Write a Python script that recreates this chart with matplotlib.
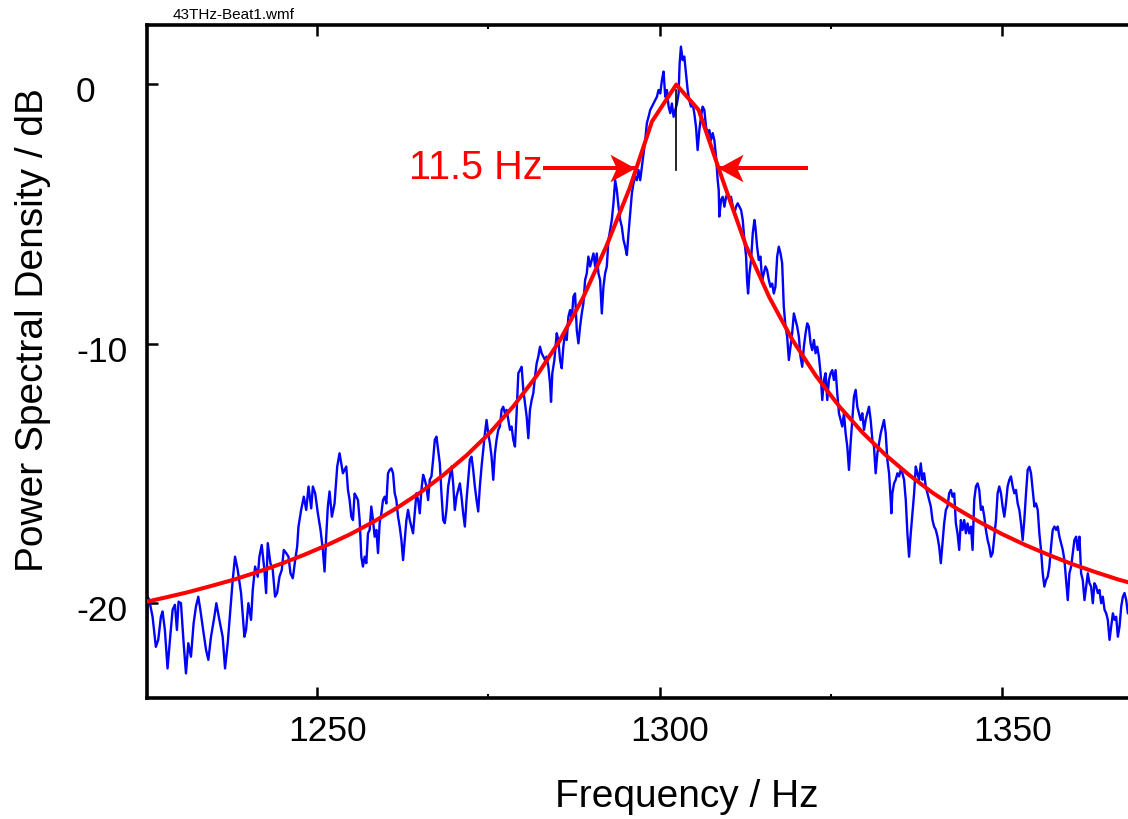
import numpy as np
import matplotlib
matplotlib.use('Agg')
import matplotlib.pyplot as plt
import matplotlib.transforms as mtransforms
from matplotlib.path import Path
from matplotlib.ticker import MultipleLocator

plt.rcParams['font.family'] = ['Liberation Sans', 'DejaVu Sans']
plt.rcParams['axes.unicode_minus'] = False

freq_hz = [
    # 1225 - 1254 Hz
    1225.10, 1225.20, 1225.44, 1225.93, 1226.41, 1226.76, 1227.15, 1227.39, 1227.73, 1228.12,
    1228.51, 1228.86, 1229.20, 1229.49, 1229.73, 1230.08, 1230.47, 1230.81, 1231.15, 1231.54,
    1231.93, 1232.27, 1232.61, 1232.91, 1233.25, 1233.74, 1234.08, 1234.47, 1234.96, 1235.25,
    1235.69, 1236.17, 1236.52, 1236.91, 1237.30, 1237.64, 1237.98, 1238.37, 1238.86, 1239.35,
    1239.59, 1239.93, 1240.32, 1240.57, 1240.91, 1241.30, 1241.54, 1241.88, 1242.27, 1242.52,
    1242.76, 1243.15, 1243.49, 1243.83, 1244.13, 1244.47, 1244.81, 1245.10, 1245.45, 1245.79,
    1246.08, 1246.42, 1246.77, 1247.06, 1247.25, 1247.64, 1248.03, 1248.38, 1248.72, 1249.11,
    1249.35, 1249.69, 1250.08, 1250.47, 1250.81, 1251.06, 1251.30, 1251.54, 1251.79, 1252.13,
    1252.52, 1252.91, 1253.25, 1253.50, 1253.74,
    # 1254 - 1284 Hz
    1253.99, 1254.23, 1254.48, 1254.72, 1254.97, 1255.21, 1255.45, 1255.70, 1255.94, 1256.19,
    1256.43, 1256.67, 1256.92, 1257.16, 1257.41, 1257.65, 1257.89, 1258.14, 1258.38, 1258.63,
    1258.87, 1259.11, 1259.36, 1259.60, 1259.85, 1260.09, 1260.33, 1260.58, 1260.82, 1261.07,
    1261.31, 1261.55, 1261.80, 1262.04, 1262.29, 1262.53, 1262.77, 1263.02, 1263.26, 1263.51,
    1263.75, 1263.99, 1264.24, 1264.48, 1264.73, 1264.97, 1265.21, 1265.46, 1265.70, 1265.95,
    1266.19, 1266.43, 1266.68, 1266.92, 1267.17, 1267.41, 1267.65, 1267.90, 1268.14, 1268.39,
    1268.63, 1268.87, 1269.12, 1269.36, 1269.61, 1269.85, 1270.09, 1270.34, 1270.58, 1270.83,
    1271.07, 1271.31, 1271.56, 1271.80, 1272.05, 1272.29, 1272.53, 1272.78, 1273.02, 1273.27,
    1273.51, 1273.75, 1274.00, 1274.24, 1274.49, 1274.73, 1274.97, 1275.22, 1275.46, 1275.71,
    1275.95, 1276.19, 1276.44, 1276.68, 1276.93, 1277.17, 1277.41, 1277.66, 1277.90, 1278.15,
    1278.39, 1278.63, 1278.88, 1279.12, 1279.37, 1279.61, 1279.85, 1280.10, 1280.34, 1280.59,
    1280.83, 1281.07, 1281.32, 1281.56, 1281.81, 1282.05, 1282.29, 1282.54, 1282.78, 1283.03,
    1283.27, 1283.51, 1283.76,
    # 1284 - 1314 Hz (peak)
    1284.00, 1284.15, 1284.34, 1284.64, 1284.98, 1285.22, 1285.47, 1285.71, 1285.95, 1286.20,
    1286.44, 1286.69, 1286.93, 1287.17, 1287.42, 1287.66, 1287.91, 1288.15, 1288.39, 1288.64,
    1288.88, 1289.13, 1289.37, 1289.61, 1289.86, 1290.10, 1290.35, 1290.59, 1290.83, 1291.08,
    1291.32, 1291.57, 1291.81, 1292.05, 1292.30, 1292.54, 1292.79, 1293.03, 1293.27, 1293.52,
    1293.76, 1294.01, 1294.25, 1294.49, 1294.74, 1294.98, 1295.23, 1295.47, 1295.71, 1295.96,
    1296.20, 1296.45, 1296.69, 1296.93, 1297.18, 1297.42, 1297.67, 1297.91, 1298.15, 1298.40,
    1298.64, 1298.89, 1299.13, 1299.37, 1299.62, 1299.86, 1300.11, 1300.35, 1300.59, 1300.84,
    1301.08, 1301.33, 1301.57, 1301.81, 1302.06, 1302.30, 1302.55, 1302.79, 1302.94, 1303.13,
    1303.38, 1303.62, 1303.86, 1304.11, 1304.35, 1304.60, 1304.84, 1305.08, 1305.33, 1305.57,
    1305.82, 1306.06, 1306.30, 1306.55, 1306.79, 1307.04, 1307.28, 1307.52, 1307.77, 1308.01,
    1308.26, 1308.50, 1308.65, 1308.74, 1308.99, 1309.23, 1309.48, 1309.72, 1309.96, 1310.21,
    1310.45, 1310.70, 1310.94, 1311.18, 1311.43, 1311.67, 1311.92, 1312.16, 1312.40, 1312.65,
    1312.79, 1312.94, 1313.14, 1313.38, 1313.62, 1313.87, 1314.01,
    # 1314 - 1341 Hz
    1314.26, 1314.50, 1314.75, 1314.99, 1315.24, 1315.48, 1315.72, 1315.97, 1316.21, 1316.46,
    1316.70, 1316.94, 1317.19, 1317.43, 1317.68, 1317.92, 1318.16, 1318.41, 1318.65, 1318.90,
    1319.14, 1319.38, 1319.63, 1319.87, 1320.12, 1320.36, 1320.60, 1320.85, 1321.09, 1321.34,
    1321.58, 1321.82, 1322.07, 1322.31, 1322.56, 1322.80, 1323.04, 1323.29, 1323.53, 1323.78,
    1324.02, 1324.26, 1324.51, 1324.75, 1325.00, 1325.24, 1325.48, 1325.73, 1325.97, 1326.22,
    1326.46, 1326.70, 1326.95, 1327.19, 1327.44, 1327.68, 1327.92, 1328.17, 1328.41, 1328.66,
    1328.90, 1329.14, 1329.39, 1329.63, 1329.88, 1330.12, 1330.36, 1330.61, 1330.85, 1331.10,
    1331.34, 1331.58, 1331.83, 1332.07, 1332.32, 1332.56, 1332.80, 1333.05, 1333.29, 1333.54,
    1333.78, 1333.88, 1334.02, 1334.27, 1334.51, 1334.76, 1335.00, 1335.24, 1335.49, 1335.73,
    1335.98, 1336.22, 1336.46, 1336.71, 1336.95, 1337.20, 1337.44, 1337.68, 1337.93, 1338.17,
    1338.42, 1338.66, 1338.90, 1339.15, 1339.39, 1339.64, 1339.88, 1340.12, 1340.37, 1340.61,
    1340.86, 1341.10,
    # 1341 - 1369 Hz
    1341.35, 1341.59, 1341.84, 1342.08, 1342.32, 1342.57, 1342.81, 1343.06, 1343.30, 1343.54,
    1343.79, 1344.03, 1344.28, 1344.52, 1344.76, 1345.01, 1345.25, 1345.50, 1345.74, 1345.98,
    1346.23, 1346.47, 1346.72, 1346.96, 1347.20, 1347.45, 1347.69, 1347.94, 1348.18, 1348.42,
    1348.67, 1348.91, 1349.16, 1349.40, 1349.64, 1349.89, 1350.13, 1350.38, 1350.62, 1350.86,
    1351.11, 1351.35, 1351.60, 1351.84, 1352.08, 1352.33, 1352.57, 1352.82, 1353.06, 1353.30,
    1353.55, 1353.79, 1354.04, 1354.28, 1354.52, 1354.77, 1355.01, 1355.26, 1355.50, 1355.74,
    1355.99, 1356.23, 1356.48, 1356.72, 1356.96, 1357.21, 1357.45, 1357.70, 1357.94, 1358.18,
    1358.43, 1358.67, 1358.92, 1359.16, 1359.40, 1359.65, 1359.89, 1360.14, 1360.38, 1360.62,
    1360.87, 1361.11, 1361.36, 1361.60, 1361.84, 1362.09, 1362.33, 1362.58, 1362.82, 1363.06,
    1363.31, 1363.55, 1363.80, 1364.04, 1364.28, 1364.53, 1364.77, 1365.02, 1365.26, 1365.50,
    1365.75, 1365.99, 1366.24, 1366.48, 1366.72, 1366.97, 1367.21, 1367.46, 1367.70, 1367.94,
    1368.19, 1368.43, 1368.63,
]

psd_db = [
    -21.02, -19.74, -19.86, -20.51, -21.67, -21.40, -20.51, -20.31, -21.02, -22.50,
    -21.28, -20.24, -20.05, -21.02, -19.93, -19.99, -21.53, -22.69, -21.53, -22.05,
    -20.76, -20.12, -19.74, -20.24, -20.89, -21.78, -22.17, -21.28, -20.51, -19.99,
    -20.63, -21.28, -22.50, -21.53, -20.24, -19.10, -18.20, -18.71, -19.60, -21.28,
    -21.02, -19.99, -20.63, -19.48, -18.58, -18.97, -18.20, -17.75, -18.71, -19.60,
    -17.68, -18.45, -18.71, -19.74, -19.60, -18.97, -18.71, -17.94, -18.06, -18.20,
    -18.84, -19.03, -18.33, -17.81, -17.04, -16.40, -15.89, -16.40, -15.50, -16.34,
    -15.50, -15.76, -16.53, -17.17, -17.94, -18.77, -17.43, -16.27, -15.69, -16.66,
    -16.15, -14.73, -14.22, -14.61, -14.99,
    -14.86, -14.73, -15.63, -16.02, -16.66, -16.79, -15.77, -15.89, -16.02, -16.79,
    -18.20, -18.58, -18.20, -18.45, -17.30, -17.17, -16.27, -16.79, -17.43, -17.17,
    -18.06, -16.91, -16.53, -16.02, -15.89, -16.15, -14.99, -14.86, -14.80, -14.99,
    -15.76, -16.02, -16.66, -17.04, -17.56, -18.33, -17.56, -16.79, -16.40, -16.79,
    -17.04, -17.30, -16.53, -15.76, -16.02, -16.53, -15.63, -15.05, -15.24, -15.50,
    -16.02, -15.24, -15.11, -14.47, -13.70, -13.58, -14.09, -14.61, -15.76, -16.79,
    -16.91, -16.40, -15.50, -15.11, -14.73, -15.38, -16.40, -15.89, -15.63, -15.38,
    -15.89, -16.53, -17.04, -16.02, -15.24, -14.47, -14.35, -14.86, -15.50, -16.02,
    -16.46, -15.50, -14.73, -14.09, -13.45, -12.94, -13.45, -13.84, -14.35, -15.24,
    -14.22, -13.70, -13.32, -13.19, -12.55, -12.43, -12.68, -12.55, -12.94, -13.32,
    -13.19, -13.70, -13.96, -12.68, -11.14, -11.02, -10.89, -11.78, -12.30, -12.81,
    -13.64, -12.55, -12.17, -11.91, -11.27, -10.76, -10.50, -10.12, -10.37, -10.50,
    -10.63, -10.50, -10.89,
    -11.53, -12.24, -11.14, -10.63, -9.60, -9.86, -10.63, -10.95, -10.12, -9.60,
    -9.86, -8.96, -8.71, -9.09, -8.19, -8.07, -9.48, -9.99, -9.35, -8.84,
    -8.45, -7.55, -7.30, -6.65, -7.03, -6.78, -6.53, -7.03, -6.53, -7.30,
    -7.55, -8.84, -7.81, -7.30, -7.03, -6.01, -5.63, -5.24, -4.60, -3.71,
    -4.09, -4.73, -5.24, -5.50, -6.01, -6.27, -6.59, -5.76, -4.99, -4.22,
    -3.83, -3.58, -3.71, -3.32, -3.71, -3.19, -2.68, -2.17, -1.52, -1.27,
    -1.01, -0.88, -0.76, -0.63, -0.50, -0.24, -0.37, 0.14, 0.47, -0.50,
    -0.24, -0.88, -1.13, -0.76, -1.27, -1.01, -0.76, -0.37, 0.78, 1.43,
    0.91, 1.05, 0.40, -0.24, -0.63, -0.88, -0.76, -1.13, -1.65, -2.55,
    -1.78, -1.27, -0.88, -1.01, -1.65, -1.90, -1.78, -2.17, -1.90, -2.17,
    -2.81, -3.71, -4.09, -5.11, -4.47, -4.35, -4.73, -4.35, -4.22, -4.47,
    -4.35, -4.73, -4.99, -4.73, -4.60, -4.73, -4.86, -5.24, -6.01, -6.65,
    -7.55, -8.07, -7.30, -6.78, -5.76, -5.24, -5.50,
    -6.27, -6.78, -6.65, -7.55, -7.30, -7.03, -7.17, -7.55, -7.81, -7.69,
    -8.07, -7.81, -6.65, -6.27, -6.53, -6.91, -8.58, -9.35, -9.73, -10.63,
    -10.12, -9.60, -8.84, -9.09, -9.35, -9.73, -10.50, -10.89, -10.12, -9.60,
    -9.22, -9.35, -9.99, -10.25, -9.86, -10.37, -10.12, -10.50, -11.14, -12.17,
    -11.40, -11.14, -12.17, -11.40, -11.14, -11.02, -11.40, -11.02, -11.91, -12.68,
    -12.94, -13.19, -12.68, -13.45, -13.97, -14.86, -13.84, -12.94, -12.04, -11.78,
    -12.43, -12.68, -12.94, -12.68, -13.32, -12.94, -12.68, -12.43, -12.94, -13.70,
    -13.97, -14.99, -14.22, -13.84, -13.45, -13.19, -12.94, -13.45, -14.47, -14.99,
    -16.02, -16.53, -15.76, -15.38, -15.24, -14.99, -15.11, -14.86, -14.99, -15.24,
    -16.02, -17.30, -18.20, -17.30, -16.53, -15.76, -14.73, -14.99, -15.24, -14.61,
    -15.24, -14.99, -15.50, -15.76, -16.02, -16.27, -16.79, -17.04, -17.17, -17.43,
    -17.81, -18.45,
    -17.68, -16.92, -16.40, -16.27, -15.76, -15.63, -15.89, -15.76, -16.92, -17.30,
    -17.94, -16.79, -17.17, -16.79, -17.30, -16.92, -17.30, -17.04, -17.94, -16.02,
    -15.50, -15.38, -15.63, -16.40, -16.27, -16.66, -17.17, -17.56, -17.81, -18.20,
    -18.06, -17.43, -16.79, -15.76, -15.50, -15.76, -16.27, -16.66, -16.15, -15.50,
    -15.24, -15.11, -15.50, -15.76, -15.63, -16.15, -16.40, -16.92, -17.56, -16.79,
    -15.76, -14.86, -14.74, -14.99, -15.63, -16.27, -16.15, -16.40, -17.30, -17.94,
    -18.84, -19.35, -19.10, -18.97, -18.58, -17.81, -17.17, -17.04, -17.17, -17.04,
    -17.43, -17.68, -17.94, -18.33, -19.10, -19.87, -18.84, -18.58, -18.06, -17.56,
    -17.43, -17.94, -17.43, -18.84, -19.10, -19.87, -19.35, -18.84, -19.22, -19.35,
    -19.99, -19.22, -19.35, -19.60, -19.48, -19.99, -19.74, -20.24, -20.38, -20.63,
    -21.40, -20.89, -20.38, -20.63, -20.51, -21.28, -20.89, -20.12, -19.74, -19.60,
    -19.87, -20.38, -20.24,
]

# Lorentzian fit, as drawn (coarsely sampled)
fit_hz = [1224.25, 1227.65, 1231.05, 1234.45, 1237.85, 1241.25, 1244.65, 1248.05,
          1251.45, 1254.85, 1258.25, 1261.65, 1265.05, 1268.45, 1271.85, 1275.25,
          1278.65, 1282.05, 1285.45, 1288.85, 1292.25, 1295.65, 1298.90, 1302.45,
          1305.72, 1309.25, 1312.65, 1316.05, 1319.45, 1322.85, 1326.25, 1329.65,
          1333.05, 1336.45, 1339.85, 1343.25, 1346.65, 1350.05, 1353.45, 1356.85,
          1360.25, 1363.65, 1367.05, 1370.45]
fit_db = [-19.98, -19.78, -19.57, -19.33, -19.08, -18.79, -18.48, -18.13,
          -17.75, -17.33, -16.85, -16.32, -15.73, -15.05, -14.29, -13.42,
          -12.41, -11.24, -9.87, -8.22, -6.24, -4.01, -1.45, -0.03,
          -1.01, -3.72, -6.24, -8.22, -9.87, -11.24, -12.41, -13.42,
          -14.29, -15.05, -15.73, -16.32, -16.85, -17.33, -17.75, -18.13,
          -18.48, -18.79, -19.08, -19.33]

center_hz = 1302.45
marker_db = [-0.25, -3.32]
fwhm_label = '11.5 Hz'
fwhm_left = [1282.98, 1296.42]    # shaft start, arrow tip
fwhm_right = [1321.70, 1308.56]
fwhm_level = -3.26

fig = plt.figure(figsize=(11.28, 8.19), dpi=100)
ax = fig.add_axes([0.13076, 0.14737, 0.86924, 0.82173])

ax.plot(freq_hz, psd_db, color='#0000ff', lw=1.7, zorder=2)
ax.plot([center_hz, center_hz], marker_db, color='black', lw=1.2, zorder=2.5)
ax.plot(fit_hz, fit_db, color='#ff0000', lw=2.9, zorder=3)

# swept-back arrow heads, tip sits on the marker centre
head_r = Path([(0, 0), (-1, 0.55), (-0.75, 0), (-1, -0.55), (0, 0)],
              [Path.MOVETO, Path.LINETO, Path.LINETO, Path.LINETO, Path.CLOSEPOLY])
head_l = Path([(0, 0), (1, 0.55), (0.75, 0), (1, -0.55), (0, 0)],
              [Path.MOVETO, Path.LINETO, Path.LINETO, Path.LINETO, Path.CLOSEPOLY])
ax.plot(fwhm_left, [fwhm_level, fwhm_level], color='#ff0000', lw=2.9,
        solid_capstyle='butt', zorder=4)
ax.plot(fwhm_right, [fwhm_level, fwhm_level], color='#ff0000', lw=2.9,
        solid_capstyle='butt', zorder=4)
ax.plot([fwhm_left[1]], [fwhm_level], marker=head_r, markersize=36,
        color='#ff0000', markeredgewidth=0, zorder=4)
ax.plot([fwhm_right[1]], [fwhm_level], marker=head_l, markersize=36,
        color='#ff0000', markeredgewidth=0, zorder=4)
ax.text(fwhm_left[0] - 0.1, -3.25, fwhm_label, color='#ff0000', fontsize=28.5,
        ha='right', va='center')

ax.set_xlim(1225.19, 1368.45)
ax.set_ylim(-23.65, 2.25)

for s in ['left', 'top', 'bottom']:
    ax.spines[s].set_linewidth(2.6)
ax.spines['right'].set_visible(False)

ax.xaxis.set_major_locator(MultipleLocator(50))
ax.xaxis.set_minor_locator(MultipleLocator(25))
ax.yaxis.set_major_locator(MultipleLocator(10))
ax.tick_params(which='major', direction='in', length=8, width=1.8,
               top=True, right=False, labelsize=25.5)
ax.tick_params(which='minor', direction='in', length=3, width=1.5,
               top=True, right=False)
ax.tick_params(axis='x', pad=12)
ax.tick_params(axis='y', pad=51.5)

xoff = mtransforms.ScaledTranslation(0.105, 0, fig.dpi_scale_trans)
for lab in ax.get_xticklabels():
    lab.set_transform(lab.get_transform() + xoff)
for tick in ax.yaxis.get_major_ticks():
    lab = tick.label1
    shift = 0.05 + 0.003 * abs(tick.get_loc())
    lab.set_ha('left')
    lab.set_transform(lab.get_transform() +
                      mtransforms.ScaledTranslation(0, -shift, fig.dpi_scale_trans))

ax.set_xlabel('Frequency / Hz', fontsize=28)
ax.xaxis.set_label_coords(0.5502, -0.1467)
ax.xaxis.label.set_va('center')
ax.set_ylabel('Power Spectral Density / dB', fontsize=28)
ax.yaxis.set_label_coords(-0.1168, 0.5472)
ax.yaxis.label.set_va('center')

fig.text(173 / 1128, 1 - 15 / 819, '43THz-Beat1.wmf', fontsize=11,
         ha='left', va='center')

fig.savefig('out.png', dpi=100)
